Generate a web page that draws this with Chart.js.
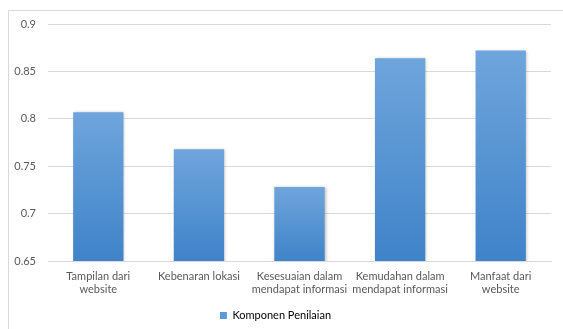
<!DOCTYPE html>
<html>
<head>
<meta charset="utf-8">
<script src="https://cdn.jsdelivr.net/npm/chart.js@4/dist/chart.umd.min.js"></script>
<style>
  html, body { margin: 0; padding: 0; background: #ffffff; overflow: hidden; }
  #wrap { position: absolute; left: 0; top: 0; width: 563px; height: 329px; overflow: hidden; }
  #frame { position: absolute; left: 8px; top: 10px; width: 600px; height: 400px;
           border-left: 1px solid #d9d9d9; border-top: 1px solid #d9d9d9; box-sizing: border-box; }
  canvas { position: absolute; left: 0; top: 0; }
</style>
</head>
<body>
<div id="wrap">
  <div id="frame"></div>
  <canvas id="c" width="563" height="331"></canvas>
</div>
<script>
// Assessment components and their scores
const categories = [
  ['Tampilan dari', 'website'],
  ['Kebenaran lokasi'],
  ['Kesesuaian dalam', 'mendapat informasi'],
  ['Kemudahan dalam', 'mendapat informasi'],
  ['Manfaat dari', 'website']
];
const seriesName = 'Komponen Penilaian';
const scores = [0.807, 0.768, 0.728, 0.864, 0.872];
const yTicks = [0.65, 0.7, 0.75, 0.8, 0.85, 0.9];

const TEXT = '#595959';
const GRID = '#d9d9d9';
const FONT = 'Lato, "Open Sans", sans-serif';

// Each bar gets its own vertical gradient, lighter at the top
function barFill(ctx) {
  const chart = ctx.chart;
  const area = chart.chartArea;
  if (!area || ctx.dataIndex === undefined) return '#5b9bd5';
  const y = chart.scales.y;
  const top = y.getPixelForValue(scores[ctx.dataIndex]);
  const g = chart.ctx.createLinearGradient(0, top, 0, area.bottom);
  g.addColorStop(0, '#6fa5dc');
  g.addColorStop(1, '#3f83c9');
  return g;
}

// Soft shadow behind the bars
const barShadow = {
  id: 'barShadow',
  beforeDatasetDraw(chart) {
    const c = chart.ctx;
    c.save();
    c.shadowColor = 'rgba(0,0,0,0.28)';
    c.shadowBlur = 3;
    c.shadowOffsetX = 1;
    c.shadowOffsetY = 0;
  },
  afterDatasetDraw(chart) {
    chart.ctx.restore();
  }
};

new Chart(document.getElementById('c'), {
  type: 'bar',
  data: {
    labels: categories,
    datasets: [{
      label: seriesName,
      data: scores,
      backgroundColor: barFill,
      borderWidth: 0,
      categoryPercentage: 1,
      barPercentage: 0.5
    }]
  },
  options: {
    responsive: false,
    animation: false,
    events: [],
    layout: { padding: { top: 24, right: 12, bottom: 0, left: 0 } },
    scales: {
      x: {
        grid: { display: false, drawTicks: false },
        border: { display: true, color: GRID, width: 1 },
        ticks: {
          color: TEXT, padding: 9, maxRotation: 0, autoSkip: false,
          font: { family: FONT, size: 11, lineHeight: 1.2 }
        },
        afterFit(s) { s.height = 44; }
      },
      y: {
        min: 0.65, max: 0.9,
        grid: { color: GRID, lineWidth: 1, drawTicks: false },
        border: { display: false },
        afterBuildTicks(s) { s.ticks = yTicks.map(v => ({ value: v })); },
        ticks: {
          color: TEXT, padding: 12,
          font: { family: FONT, size: 11 },
          callback: v => String(+(+v).toFixed(2))
        },
        afterFit(s) { s.width = 48; }
      }
    },
    plugins: {
      legend: {
        position: 'bottom',
        labels: {
          color: TEXT, boxWidth: 7, boxHeight: 7, padding: 5,
          font: { family: FONT, size: 11 },
          generateLabels: () => [{
            text: seriesName, fillStyle: '#5b9bd5', strokeStyle: '#5b9bd5',
            lineWidth: 0, hidden: false, datasetIndex: 0
          }]
        }
      },
      tooltip: { enabled: false }
    }
  },
  plugins: [barShadow]
});
</script>
</body>
</html>
